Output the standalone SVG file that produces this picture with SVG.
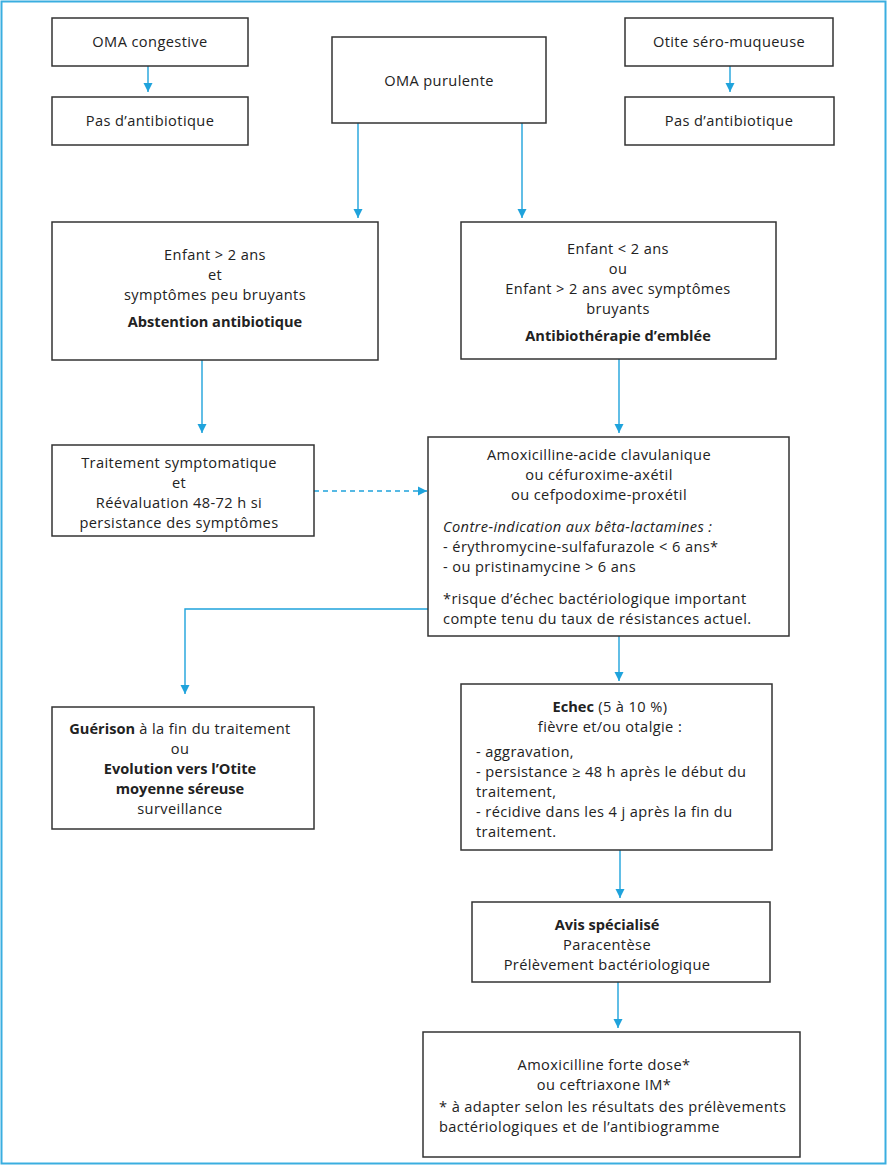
<svg xmlns="http://www.w3.org/2000/svg" width="887" height="1165" viewBox="0 0 887 1165">
<style>
.box{fill:#fff;stroke:#333;stroke-width:1.5}
.t{font-family:"Open Sans","Liberation Sans",sans-serif;font-size:14.6px;letter-spacing:0.4px;fill:#222}
.c{text-anchor:middle}
.b{font-weight:bold;letter-spacing:0}
.i{font-style:italic}
.ln{stroke:#1fa3dc;stroke-width:1.4;fill:none}
.dash{stroke-dasharray:5,4}
</style>
<defs>
<marker id="ah" markerWidth="10" markerHeight="10" refX="9" refY="5" orient="auto" markerUnits="userSpaceOnUse">
<path d="M0,0.5 L9,5 L0,9.5 Z" fill="#1fa3dc"/>
</marker>
</defs>
<rect x="1.5" y="1.5" width="884" height="1162" fill="#fff" stroke="#3aaee0" stroke-width="2"/>
<g id="connectors">
<line class="ln" x1="148" y1="66" x2="148" y2="92" marker-end="url(#ah)"/>
<line class="ln" x1="730" y1="66" x2="730" y2="92" marker-end="url(#ah)"/>
<line class="ln" x1="358" y1="123" x2="358" y2="218" marker-end="url(#ah)"/>
<line class="ln" x1="522" y1="123" x2="522" y2="218" marker-end="url(#ah)"/>
<line class="ln" x1="202" y1="360" x2="202" y2="433" marker-end="url(#ah)"/>
<line class="ln" x1="619" y1="359" x2="619" y2="433" marker-end="url(#ah)"/>
<line class="ln dash" x1="314" y1="491" x2="427" y2="491" marker-end="url(#ah)"/>
<polyline class="ln" points="428,609 185,609 185,694" marker-end="url(#ah)"/>
<line class="ln" x1="619" y1="636" x2="619" y2="681" marker-end="url(#ah)"/>
<line class="ln" x1="620" y1="850" x2="620" y2="898" marker-end="url(#ah)"/>
<line class="ln" x1="618" y1="982" x2="618" y2="1028" marker-end="url(#ah)"/>
</g>
<g id="n-congestive"><rect class="box" x="52" y="18" width="196" height="48"/><text class="t c" x="150" y="47">OMA congestive</text></g>
<g id="n-pas1"><rect class="box" x="52" y="97" width="196" height="48"/><text class="t c" x="150" y="126">Pas d’antibiotique</text></g>
<g id="n-purulente"><rect class="box" x="332" y="37" width="214" height="86"/><text class="t c" x="439" y="86">OMA purulente</text></g>
<g id="n-sero"><rect class="box" x="625" y="18" width="208" height="48"/><text class="t c" x="729" y="47">Otite séro-muqueuse</text></g>
<g id="n-pas2"><rect class="box" x="625" y="97" width="209" height="48"/><text class="t c" x="729" y="126">Pas d’antibiotique</text></g>
<g id="n-sup2"><rect class="box" x="52" y="222" width="326" height="138"/>
<text class="t c" x="215" y="260">Enfant &gt; 2 ans</text>
<text class="t c" x="215" y="280">et</text>
<text class="t c" x="215" y="300">symptômes peu bruyants</text>
<text class="t c b" x="215" y="327">Abstention antibiotique</text></g>
<g id="n-inf2"><rect class="box" x="461" y="222" width="315" height="137"/>
<text class="t c" x="618" y="254">Enfant &lt; 2 ans</text>
<text class="t c" x="618" y="274">ou</text>
<text class="t c" x="618" y="294">Enfant &gt; 2 ans avec symptômes</text>
<text class="t c" x="618" y="314">bruyants</text>
<text class="t c b" x="618" y="341">Antibiothérapie d’emblée</text></g>
<g id="n-traitement"><rect class="box" x="52" y="445" width="262" height="91"/>
<text class="t c" x="179" y="468">Traitement symptomatique</text>
<text class="t c" x="179" y="488">et</text>
<text class="t c" x="179" y="508">Réévaluation 48-72 h si</text>
<text class="t c" x="179" y="528">persistance des symptômes</text></g>
<g id="n-amox"><rect class="box" x="428" y="437" width="361" height="199"/>
<text class="t c" x="599" y="460">Amoxicilline-acide clavulanique</text>
<text class="t c" x="599" y="480">ou céfuroxime-axétil</text>
<text class="t c" x="599" y="500">ou cefpodoxime-proxétil</text>
<text class="t i" x="443" y="532">Contre-indication aux bêta-lactamines :</text>
<text class="t" x="443" y="552">- érythromycine-sulfafurazole &lt; 6 ans*</text>
<text class="t" x="443" y="572">- ou pristinamycine &gt; 6 ans</text>
<text class="t" x="443" y="604">*risque d’échec bactériologique important</text>
<text class="t" x="443" y="624">compte tenu du taux de résistances actuel.</text></g>
<g id="n-guerison"><rect class="box" x="52" y="707" width="262" height="122"/>
<text class="t c" x="180" y="734"><tspan class="b">Guérison</tspan> à la fin du traitement</text>
<text class="t c" x="180" y="754">ou</text>
<text class="t c b" x="180" y="774">Evolution vers l’Otite</text>
<text class="t c b" x="180" y="794">moyenne séreuse</text>
<text class="t c" x="180" y="814">surveillance</text></g>
<g id="n-echec"><rect class="box" x="461" y="684" width="311" height="166"/>
<text class="t c" x="610" y="712"><tspan class="b">Echec</tspan> (5 à 10 %)</text>
<text class="t c" x="610" y="732">fièvre et/ou otalgie :</text>
<text class="t" x="476" y="757">- aggravation,</text>
<text class="t" x="476" y="777">- persistance ≥ 48 h après le début du</text>
<text class="t" x="476" y="797">traitement,</text>
<text class="t" x="476" y="817">- récidive dans les 4 j après la fin du</text>
<text class="t" x="476" y="837">traitement.</text></g>
<g id="n-avis"><rect class="box" x="472" y="902" width="298" height="80"/>
<text class="t c b" x="607" y="930">Avis spécialisé</text>
<text class="t c" x="607" y="950">Paracentèse</text>
<text class="t c" x="607" y="970">Prélèvement bactériologique</text></g>
<g id="n-final"><rect class="box" x="423" y="1032" width="377" height="125"/>
<text class="t c" x="604" y="1070">Amoxicilline forte dose*</text>
<text class="t c" x="604" y="1090">ou ceftriaxone IM*</text>
<text class="t" x="439" y="1112">* à adapter selon les résultats des prélèvements</text>
<text class="t" x="439" y="1132">bactériologiques et de l’antibiogramme</text></g>
</svg>
